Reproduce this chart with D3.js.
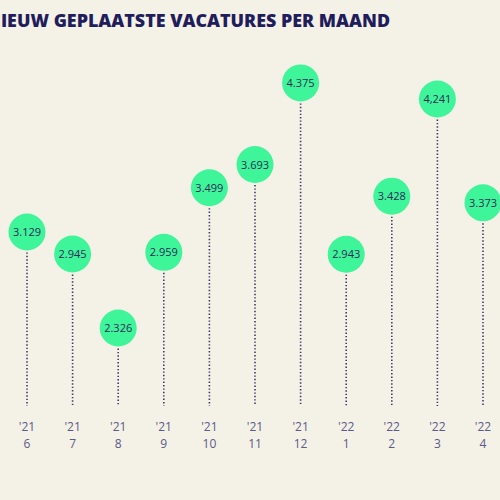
<!DOCTYPE html>
<html>
<head>
<meta charset="utf-8">
<script src="https://cdn.jsdelivr.net/npm/d3@7"></script>
<style>
  html, body { margin: 0; padding: 0; background: #f4f1e6; overflow: hidden; }
  svg { display: block; }
</style>
</head>
<body>
<div id="chart"></div>
<script>
// nieuw geplaatste vacatures per maand, lollipop style
var years  = ["'21", "'21", "'21", "'21", "'21", "'21", "'21", "'21", "'22", "'22", "'22", "'22"];
var months = ["5", "6", "7", "8", "9", "10", "11", "12", "1", "2", "3", "4"];
var values = [2828, 3129, 2945, 2326, 2959, 3499, 3693, 4375, 2943, 3428, 4241, 3373];
var labels = ["2.828", "3.129", "2.945", "2.326", "2.959", "3.499", "3.693", "4.375", "2.943", "3.428", "4,241", "3.373"];

var width = 500, height = 500;
var radius = 18.5;
var lineBottom = 406;
var font = "'Open Sans', 'Noto Sans', sans-serif";

var svg = d3.select("#chart")
    .append("svg")
    .attr("width", width)
    .attr("height", height);

svg.append("rect")
    .attr("width", width)
    .attr("height", height)
    .attr("fill", "#f4f1e6");

// title is cut off on the left in the original too
svg.append("text")
    .attr("x", -14)
    .attr("y", 27)
    .attr("textLength", 404)
    .attr("lengthAdjust", "spacingAndGlyphs")
    .style("font-family", font)
    .style("font-weight", "800")
    .style("font-size", "18px")
    .attr("fill", "#1f1d5c")
    .text("NIEUW GEPLAATSTE VACATURES PER MAAND");

var keys = months.map(function(m, i) { return i; });

var x = d3.scalePoint()
    .domain(keys)
    .range([-18.6, 483]);

var y = d3.scaleLinear()
    .domain([2000, 4500])
    .range([367, 68]);

var data = keys.map(function(i) {
    return { year: years[i], month: months[i], value: values[i], label: labels[i] };
});

// dotted stems
svg.selectAll(".stem")
    .data(data)
    .enter()
    .append("line")
    .attr("class", "stem")
    .attr("x1", function(d, i) { return x(i); })
    .attr("x2", function(d, i) { return x(i); })
    .attr("y1", function(d) { return y(d.value) + radius + 2; })
    .attr("y2", lineBottom)
    .attr("stroke", "#3c3a6e")
    .attr("stroke-width", 1.6)
    .attr("stroke-dasharray", "1.4 2");

svg.selectAll(".dot")
    .data(data)
    .enter()
    .append("circle")
    .attr("class", "dot")
    .attr("cx", function(d, i) { return x(i); })
    .attr("cy", function(d) { return y(d.value); })
    .attr("r", radius)
    .attr("fill", "#3ff59a");

svg.selectAll(".val")
    .data(data)
    .enter()
    .append("text")
    .attr("class", "val")
    .attr("x", function(d, i) { return x(i); })
    .attr("y", function(d) { return y(d.value) + 4; })
    .attr("text-anchor", "middle")
    .style("font-family", font)
    .style("font-size", "11px")
    .attr("fill", "#2a2a5a")
    .text(function(d) { return d.label; });

// two line axis labels: year on top, month below
svg.selectAll(".yr")
    .data(data)
    .enter()
    .append("text")
    .attr("class", "yr")
    .attr("x", function(d, i) { return x(i); })
    .attr("y", 431)
    .attr("text-anchor", "middle")
    .style("font-family", font)
    .style("font-size", "12px")
    .attr("fill", "#5b5a8a")
    .text(function(d) { return d.year; });

svg.selectAll(".mo")
    .data(data)
    .enter()
    .append("text")
    .attr("class", "mo")
    .attr("x", function(d, i) { return x(i); })
    .attr("y", 448)
    .attr("text-anchor", "middle")
    .style("font-family", font)
    .style("font-size", "12px")
    .attr("fill", "#5b5a8a")
    .text(function(d) { return d.month; });
</script>
</body>
</html>
